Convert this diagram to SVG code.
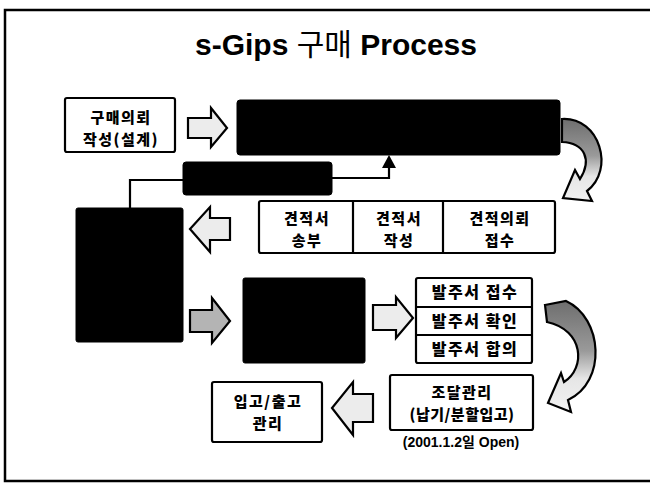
<svg xmlns="http://www.w3.org/2000/svg" width="651" height="491" viewBox="0 0 651 491">
<style>
.frame{fill:none;stroke:#000;stroke-width:2.5}
.box{fill:#fff;stroke:#000;stroke-width:2.2}
.blk{fill:#000;stroke:#000;stroke-width:1}
.t{font-family:"Noto Sans CJK KR","Liberation Sans",sans-serif;font-weight:900;font-size:15px;fill:#000;text-anchor:middle;letter-spacing:1.5px}
.note{font-family:"Liberation Sans","Noto Sans CJK KR",sans-serif;font-weight:700;font-size:14px;fill:#000;text-anchor:middle}
.conn{fill:none;stroke:#000;stroke-width:2.2}
.barrow{stroke:#000;stroke-width:2.2;stroke-linejoin:miter}
.light{fill:#ececec}
.mid{fill:#b4b4b4}
</style>
<defs>
<linearGradient id="g1" x1="0" y1="0" x2="0" y2="1">
<stop offset="0" stop-color="#6e6e6e"/>
<stop offset="0.45" stop-color="#9a9a9a"/>
<stop offset="0.7" stop-color="#e6e6e6"/>
<stop offset="1" stop-color="#f2f2f2"/>
</linearGradient>
</defs>
<path class="frame" d="M650,10 H5 V481 H650"/>
<text x="336" y="55" text-anchor="middle" font-size="30" fill="#000"><tspan font-family="Liberation Sans,Arial,sans-serif" font-weight="700">s-Gips </tspan><tspan font-family="Noto Sans CJK KR,sans-serif" font-weight="400">구매</tspan><tspan font-family="Liberation Sans,Arial,sans-serif" font-weight="700"> Process</tspan></text>

<g id="connectors">
<polyline class="conn" points="332,178 389,178 389,166"/>
<polygon points="389,155 382,168 396,168" fill="#000"/>
<polyline class="conn" points="183,180 130,180 130,208"/>
<path id="arr1" class="barrow light" d="M188,118 L211,118 L211,108 L227,128 L211,147 L211,138 L188,138 Z"/>
<path id="arr2" class="barrow light" d="M230,218 L210,218 L210,207 L190,229 L210,252 L210,240 L230,240 Z"/>
<path id="arr3" class="barrow mid" d="M190,310 L212,310 L212,298 L230,321 L212,343 L212,332 L190,332 Z"/>
<path id="arr4" class="barrow light" d="M373,305 L396,305 L396,297 L413,318 L396,338 L396,330 L373,330 Z"/>
<path id="arr5" class="barrow light" d="M373,394 L353,394 L353,382 L332,408 L353,435 L353,422 L373,422 Z"/>
<path id="curve1" class="barrow" fill="url(#g1)" d="M562,119 C600,117 615,170 587,191 L592,201 L563,198 L575,170 L580,179 C592,160 585,143 562,142 Z"/>
<path id="curve2" class="barrow" fill="url(#g1)" d="M545,305 L566,301 C603,318 607,382 568,400 L571,412 L548,403 L561,373 L564,382 C586,368 584,330 547,322 Z"/>
</g>

<g id="n-request">
<rect class="box" x="65" y="98" width="110" height="54" rx="2"/>
<text class="t" x="121" y="123">구매의뢰</text>
<text class="t" x="121" y="145">작성(설계)</text>
</g>
<g id="n-topblack"><rect class="blk" x="237" y="100" width="323" height="55" rx="3"/></g>
<g id="n-smallblack"><rect class="blk" x="183" y="162" width="149" height="33" rx="3"/></g>
<g id="n-tallblack"><rect class="blk" x="76" y="208" width="107" height="134" rx="2"/></g>
<g id="n-quote">
<rect class="box" x="259" y="201" width="296" height="52" rx="2"/>
<line class="conn" x1="353" y1="201" x2="353" y2="253"/>
<line class="conn" x1="443" y1="201" x2="443" y2="253"/>
<text class="t" x="307" y="224">견적서</text>
<text class="t" x="307" y="246">송부</text>
<text class="t" x="399" y="224">견적서</text>
<text class="t" x="399" y="246">작성</text>
<text class="t" x="500" y="224">견적의뢰</text>
<text class="t" x="500" y="246">접수</text>
</g>
<g id="n-midblack"><rect class="blk" x="243" y="278" width="122" height="85" rx="2"/></g>
<g id="n-order">
<rect class="box" x="416" y="278" width="116" height="85" rx="2"/>
<line class="conn" x1="416" y1="307" x2="532" y2="307"/>
<line class="conn" x1="416" y1="335" x2="532" y2="335"/>
<text class="t" x="475" y="298" style="font-size:16px">발주서 접수</text>
<text class="t" x="475" y="327" style="font-size:16px">발주서 확인</text>
<text class="t" x="475" y="355" style="font-size:16px">발주서 합의</text>
</g>
<g id="n-procure">
<rect class="box" x="390" y="375" width="143" height="55" rx="2"/>
<text class="t" x="462" y="398">조달관리</text>
<text class="t" x="462" y="420" style="letter-spacing:0.5px">(납기/분할입고)</text>
</g>
<text class="note" x="461" y="447">(2001.1.2일 Open)</text>
<g id="n-stock">
<rect class="box" x="212" y="382" width="110" height="60" rx="2"/>
<text class="t" x="268" y="407">입고/출고</text>
<text class="t" x="268" y="429">관리</text>
</g>
</svg>
